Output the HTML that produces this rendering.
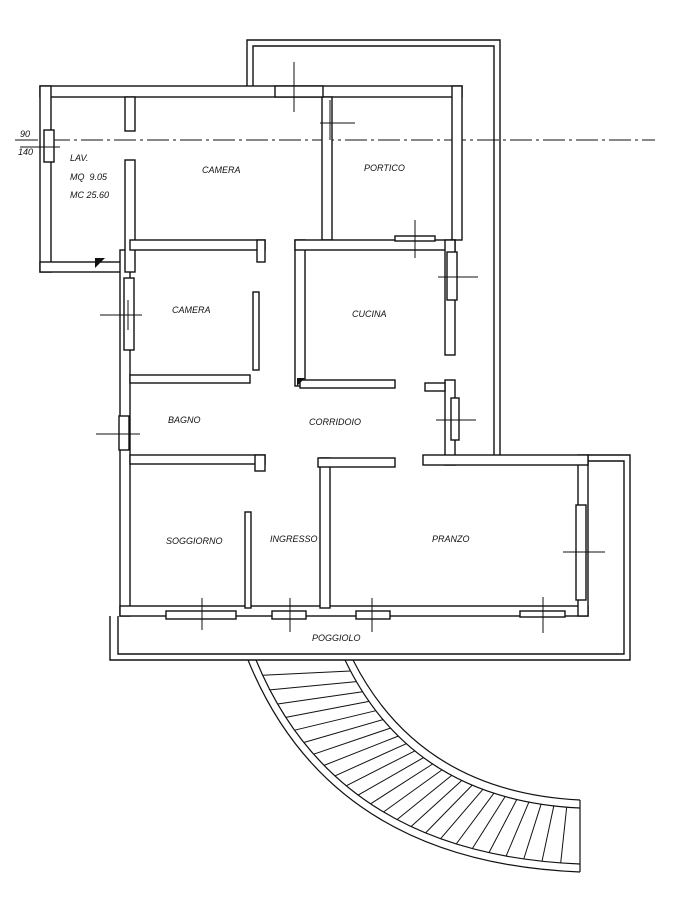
<!DOCTYPE html>
<html><head><meta charset="utf-8"><style>
html,body{margin:0;padding:0;background:#fff;}
svg{display:block;}
text{font-family:"Liberation Sans",sans-serif;font-style:italic;font-size:9px;fill:#111;}
</style></head><body>
<svg width="694" height="900" viewBox="0 0 694 900" xmlns="http://www.w3.org/2000/svg">
<g fill="none" stroke="#111" stroke-width="1.4">
<path d="M247,86 V40 H500 V455"/>
<path d="M253,86 V46 H494 V455"/>
<path d="M588,455 H630 V660 H110 V616"/>
<path d="M588,461 H624 V654 H118 V616"/>
<path d="M15,140 H655" stroke-dasharray="22,4,3,4" stroke-width="1"/>
<path d="M20,140 H38" stroke-width="1"/>
</g>
<g fill="#fff" stroke="#111" stroke-width="1.4">
<rect x="40" y="86" width="422" height="11"/>
<rect x="40" y="86" width="11" height="186"/>
<rect x="40" y="262" width="86" height="10"/>
<rect x="120" y="250" width="10" height="366"/>
<rect x="120" y="606" width="468" height="10"/>
<rect x="578" y="455" width="10" height="161"/>
<rect x="125" y="97" width="10" height="34"/>
<rect x="125" y="160" width="10" height="112"/>
<rect x="130" y="240" width="135" height="10"/>
<rect x="257" y="240" width="8" height="22"/>
<rect x="322" y="97" width="10" height="143"/>
<rect x="452" y="86" width="10" height="154"/>
<rect x="295" y="240" width="10" height="146"/>
<rect x="295" y="240" width="160" height="10"/>
<rect x="445" y="240" width="10" height="115"/>
<rect x="445" y="380" width="10" height="85"/>
<rect x="300" y="380" width="95" height="8"/>
<rect x="425" y="383" width="20" height="8"/>
<rect x="130" y="375" width="120" height="8"/>
<rect x="253" y="292" width="6" height="78"/>
<rect x="130" y="455" width="135" height="9"/>
<rect x="255" y="455" width="10" height="16"/>
<rect x="245" y="512" width="6" height="96"/>
<rect x="320" y="458" width="10" height="150"/>
<rect x="318" y="458" width="77" height="9"/>
<rect x="423" y="455" width="165" height="10"/>
<rect x="275" y="86" width="48" height="11"/>
<rect x="44" y="130" width="10" height="32"/>
<rect x="124" y="278" width="10" height="72"/>
<rect x="119" y="416" width="10" height="34"/>
<rect x="395" y="236" width="40" height="5"/>
<rect x="447" y="252" width="10" height="48"/>
<rect x="451" y="398" width="8" height="42"/>
<rect x="576" y="505" width="10" height="95"/>
<rect x="166" y="611" width="70" height="8"/>
<rect x="272" y="611" width="34" height="8"/>
<rect x="356" y="611" width="34" height="8"/>
<rect x="520" y="611" width="45" height="6"/>
</g>
<g stroke="#111" stroke-width="1">
<path d="M294,62 V112 M320,123 H355 M330,100 V140"/>
<path d="M20,147 H60"/>
<path d="M100,315 H142 M128,300 V330"/>
<path d="M96,434 H140"/>
<path d="M415,220 V258 M438,277 H478"/>
<path d="M436,420 H476"/>
<path d="M563,552 H605"/>
<path d="M202,598 V630 M290,598 V632 M372,598 V632 M543,597 V633"/>
</g>
<polygon points="95,258 105,258 95,268" fill="#111"/>
<polygon points="297,378 305,378 297,386" fill="#111"/>
<g fill="none" stroke="#111" stroke-width="1.2">
<path d="M248,660 Q330,862 580,872"/>
<path d="M256,660 Q336,854 580,864"/>
<path d="M353,660 Q420,792 580,800"/>
<path d="M345,660 Q412,800 580,808"/>
<path d="M580,800 V872"/>
</g>
<g stroke="#111" stroke-width="1">
<line x1="262.7" y1="675.2" x2="350.5" y2="671.0"/>
<line x1="269.9" y1="689.9" x2="356.4" y2="681.6"/>
<line x1="277.6" y1="704.0" x2="362.6" y2="691.7"/>
<line x1="285.8" y1="717.4" x2="369.0" y2="701.4"/>
<line x1="294.6" y1="730.2" x2="375.8" y2="710.7"/>
<line x1="303.8" y1="742.5" x2="383.0" y2="719.6"/>
<line x1="313.7" y1="754.2" x2="390.4" y2="728.1"/>
<line x1="324.0" y1="765.4" x2="398.2" y2="736.1"/>
<line x1="334.9" y1="775.9" x2="406.3" y2="743.7"/>
<line x1="346.2" y1="785.8" x2="414.8" y2="750.9"/>
<line x1="358.2" y1="795.1" x2="423.6" y2="757.6"/>
<line x1="370.6" y1="803.8" x2="432.6" y2="764.0"/>
<line x1="383.5" y1="812.0" x2="442.0" y2="769.9"/>
<line x1="397.0" y1="819.6" x2="451.7" y2="775.4"/>
<line x1="411.0" y1="826.6" x2="461.8" y2="780.5"/>
<line x1="425.6" y1="832.9" x2="472.2" y2="785.1"/>
<line x1="440.6" y1="838.7" x2="482.8" y2="789.4"/>
<line x1="456.2" y1="844.0" x2="493.9" y2="793.2"/>
<line x1="472.3" y1="848.6" x2="505.1" y2="796.6"/>
<line x1="489.0" y1="852.6" x2="516.8" y2="799.5"/>
<line x1="506.1" y1="856.1" x2="528.9" y2="802.1"/>
<line x1="523.8" y1="858.9" x2="541.1" y2="804.2"/>
<line x1="542.0" y1="861.3" x2="553.8" y2="805.9"/>
<line x1="560.7" y1="862.9" x2="566.7" y2="807.1"/>
</g>
<text x="20" y="137">90</text>
<text x="18" y="155">140</text>
<text x="70" y="161">LAV.</text>
<text x="70" y="180">MQ&#160;&#160;9.05</text>
<text x="70" y="198">MC&#160;25.60</text>
<text x="202" y="173">CAMERA</text>
<text x="364" y="171">PORTICO</text>
<text x="172" y="313">CAMERA</text>
<text x="352" y="317">CUCINA</text>
<text x="168" y="423">BAGNO</text>
<text x="309" y="425">CORRIDOIO</text>
<text x="166" y="544">SOGGIORNO</text>
<text x="270" y="542">INGRESSO</text>
<text x="432" y="542">PRANZO</text>
<text x="312" y="641">POGGIOLO</text>
</svg>
</body></html>
